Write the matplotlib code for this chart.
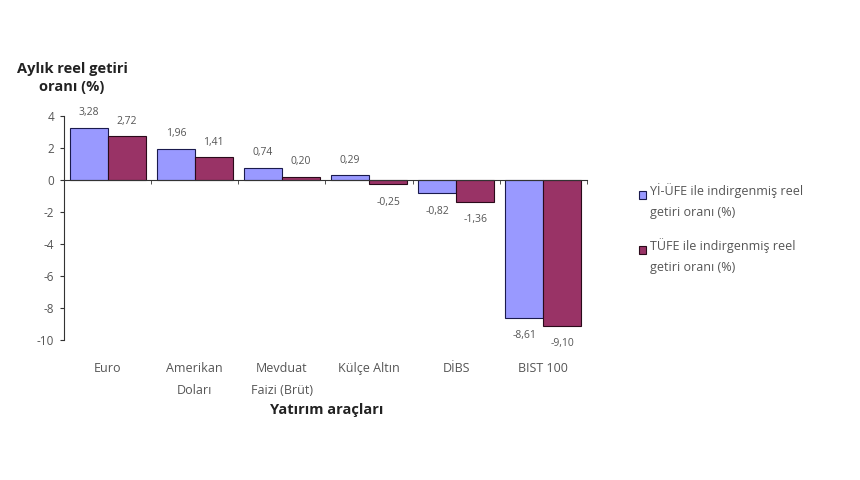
import matplotlib
matplotlib.use("Agg")
import matplotlib.pyplot as plt
import numpy as np
from matplotlib.ticker import FixedLocator
from matplotlib.legend_handler import HandlerPatch
from matplotlib.patches import Rectangle

categories = ["Euro", "Amerikan\nDoları", "Mevduat\nFaizi (Brüt)", "Külçe Altın", "DİBS", "BIST 100"]
yiufe = [3.28, 1.96, 0.74, 0.29, -0.82, -8.61]
tufe = [2.72, 1.41, 0.20, -0.25, -1.36, -9.10]
series_names = ["Yİ-ÜFE ile indirgenmiş reel\ngetiri oranı (%)", "TÜFE ile indirgenmiş reel\ngetiri oranı (%)"]
yticks = [4, 2, 0, -2, -4, -6, -8, -10]

plt.rcParams['font.family'] = ['Open Sans', 'DejaVu Sans']
txt = "#555555"

fig = plt.figure(figsize=(8.6, 4.8), dpi=100)
ax = fig.add_axes([64/860, 1-340/480, (587-64)/860, (340-116)/480])

x = np.arange(len(categories))
w = 0.435
b1 = ax.bar(x - w/2, yiufe, w, color="#9999FF", edgecolor="#1a1a4d", linewidth=0.8, label=series_names[0])
b2 = ax.bar(x + w/2, tufe, w, color="#993366", edgecolor="#2a0a1a", linewidth=0.8, label=series_names[1])

for bars, vals in ((b1, yiufe), (b2, tufe)):
    for r, v in zip(bars, vals):
        off = 11 if v >= 0 else -13
        ax.annotate(f"{v:.2f}".replace(".", ","), (r.get_x() + r.get_width()/2, v),
                    xytext=(0, off), textcoords="offset points", ha="center", va="center",
                    fontsize=7.5, color=txt)

ax.set_xlim(-0.5, len(categories) - 0.5)
ax.set_ylim(-10, 4)
ax.set_yticks(yticks)
ax.set_yticklabels([str(t) for t in yticks], fontsize=8.5, color=txt)
ax.tick_params(axis='y', direction='out', length=3, color="#333333", pad=4)

for s in ("top", "right"):
    ax.spines[s].set_visible(False)
ax.spines['left'].set_color("#333333")
ax.spines['bottom'].set_position(('data', 0))
ax.spines['bottom'].set_color("#333333")
ax.set_xticks(x)
ax.set_xticklabels([])
ax.tick_params(axis='x', which='major', length=0)
ax.xaxis.set_minor_locator(FixedLocator(list(x[1:] - 0.5) + [len(categories) - 0.5]))
ax.tick_params(axis='x', which='minor', direction='out', length=3, color="#333333")

sec = ax.secondary_xaxis('bottom')
sec.spines['bottom'].set_visible(False)
sec.set_xticks(x)
sec.set_xticklabels(categories, fontsize=9, color=txt, linespacing=1.85)
sec.tick_params(axis='x', length=0, pad=16)

fig.text(72/860, 1-78/480, "Aylık reel getiri\noranı (%)", ha="center", va="center",
         fontsize=10.5, fontweight="bold", color="#222222", linespacing=1.4)
fig.text(327/860, 1-410/480, "Yatırım araçları", ha="center", va="center",
         fontsize=10.5, fontweight="bold", color="#222222")


def top_square(legend, orig_handle, xdescent, ydescent, width, height, fontsize):
    s = 0.6 * fontsize
    return Rectangle((-xdescent, -ydescent + height - s), s, s)


handler = HandlerPatch(patch_func=top_square)
h1, h2 = b1.patches[0], b2.patches[0]
leg = fig.legend(handles=[h1, h2], labels=series_names, loc="upper left",
                 bbox_to_anchor=(630/860, 1-174/480),
                 frameon=False, fontsize=9, handlelength=0.6, handleheight=2.3,
                 handletextpad=0.3, labelspacing=1.5, labelcolor=txt, borderpad=0.2,
                 handler_map={h1: handler, h2: handler})
for t in leg.get_texts():
    t.set_linespacing(1.85)

fig.savefig("out.png", dpi=100)
